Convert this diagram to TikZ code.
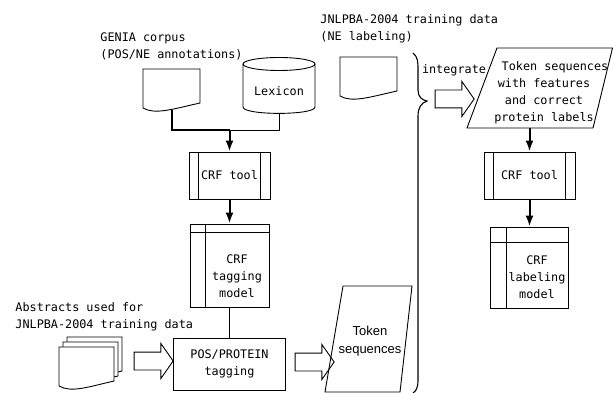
\documentclass[tikz,border=0pt]{standalone}
\usepackage{fontspec}
\setmainfont{DejaVu Sans Mono}
\newfontfamily\arialfont{Liberation Sans}
\usepackage{tikz}
\usetikzlibrary{arrows.meta,shapes.arrows}

\begin{document}
\begin{tikzpicture}[x=1pt, y=-1pt, line width=0.9pt,
  every node/.style={font=\fontsize{11.8}{17}\selectfont},
  txt/.style={align=left, anchor=west, inner sep=0pt},
  boxtxt/.style={align=center, inner sep=0pt},
  toolbox/.style={draw, minimum height=47pt, inner sep=0pt},
  modelbox/.style={draw, inner sep=0pt},
  bigarrow/.style={single arrow, draw, inner xsep=0pt, inner ysep=8.5pt,
    minimum height=39pt, single arrow head extend=8.5pt, single arrow tip angle=110},
  flow/.style={line width=2pt, -{Latex[length=11pt,width=8pt]}}]
\useasboundingbox (0,0) rectangle (613,393);

%--- inputs for the tagging model ---
\node[txt] (genialbl) at (100,46) {GENIA corpus\\(POS/NE annotations)};
\draw[shift={(143,69)}] (0,0) -- (57,0) -- (57,34) .. controls (30,40) and (12,46) .. (0,39) -- cycle;
\coordinate (geniabot) at (172,110);
% lexicon
\draw (243,64) -- (243,107) .. controls (243,115.5) and (315,115.5) .. (315,107) -- (315,64);
\draw (279,64) ellipse [x radius=36pt, y radius=6.5pt];
\node (lexicon) at (279,91) {Lexicon};
\coordinate (lexbot) at (279,113.4);
\coordinate (join) at (229.5,130);

%--- tagging model ---
\node[toolbox, minimum width=81pt] (crftool) at (229.5,175.5) {CRF tool};
\draw ([xshift=10pt]crftool.north west) -- ([xshift=10pt]crftool.south west);
\draw ([xshift=-10pt]crftool.north east) -- ([xshift=-10pt]crftool.south east);
\node[modelbox, minimum width=79pt, minimum height=83pt] (tagmodel) at (229.5,265.5) {};
\draw ([yshift=-8.5pt]tagmodel.north west) -- ([yshift=-8.5pt]tagmodel.north east);
\draw ([xshift=16pt]tagmodel.north west) -- ([xshift=16pt]tagmodel.south west);
\node[boxtxt] (tagtext) at (237,276) {CRF\\tagging\\model};

\draw[line width=2.4pt] (geniabot) |- (join);
\draw (lexbot) |- (join);
\draw[flow] (join) -- (crftool.north);
\draw[flow] (crftool.south) -- (tagmodel.north);

%--- tagging of the abstracts ---
\node[txt] (abslbl) at (15,317) {Abstracts used for\\JNLPBA-2004 training data};
\foreach \dx/\dy in {67/337, 63/342, 59/347}{
  \draw[fill=white, shift={(\dx,\dy)}] (0,0) -- (55,0) -- (55,34) .. controls (29,40) and (12,46) .. (0,39) -- cycle;
}
\node[bigarrow] (absarrow) at (150.5,361) {};
\node[draw, minimum width=112pt, minimum height=52pt, boxtxt] (postag) at (229.5,364) {POS/PROTEIN\\tagging};
\draw (tagmodel.south) -- (postag.north);
\node[bigarrow] (posarrow) at (311.5,362) {};
\draw (343,286) -- (412,286) -- (400,392) -- (325,392) -- cycle;
\node[boxtxt, font=\arialfont\fontsize{13}{18}\selectfont] (tokseq) at (370,341) {Token\\sequences};

%--- training data and integration ---
\node[txt] (jnlpbalbl) at (320,29) {JNLPBA-2004 training data\\(NE labeling)};
\draw[shift={(340,57)}] (0,0) -- (57,0) -- (57,34) .. controls (30,40) and (12,46) .. (0,39) -- cycle;
\draw[line width=1.1pt] (413,53) .. controls (418,57) and (418,62) .. (418,70) -- (418,90)
  .. controls (418,97) and (422,100) .. (427,101)
  .. controls (421,103) and (418,108) .. (418,116) -- (418,380)
  .. controls (418,388) and (416,391) .. (413,393);
\node (integ) at (454,70) {integrate};
\node[bigarrow] (intarrow) at (451.5,99) {};

%--- labeling model ---
\draw (497,48) -- (612.5,48) -- (593,128) -- (467,128) -- cycle;
\node[boxtxt] (tokfeat) at (544,93) {\hspace*{22pt}Token sequences\\with features\\and correct\\protein labels};
\coordinate (tokfeatbot) at (529.5,128);
\node[toolbox, minimum width=91pt] (crftoolb) at (529.5,175.5) {CRF tool};
\draw ([xshift=10pt]crftoolb.north west) -- ([xshift=10pt]crftoolb.south west);
\draw ([xshift=-10pt]crftoolb.north east) -- ([xshift=-10pt]crftoolb.south east);
\node[modelbox, minimum width=78pt, minimum height=81pt] (labmodel) at (529.5,267.5) {};
\draw ([yshift=-15.5pt]labmodel.north west) -- ([yshift=-15.5pt]labmodel.north east);
\draw ([xshift=16pt]labmodel.north west) -- ([xshift=16pt]labmodel.south west);
\node[boxtxt] (labtext) at (537,277) {CRF\\labeling\\model};

\draw[flow] (tokfeatbot) -- (crftoolb.north);
\draw[flow] (crftoolb.south) -- (labmodel.north);
\end{tikzpicture}
\end{document}
